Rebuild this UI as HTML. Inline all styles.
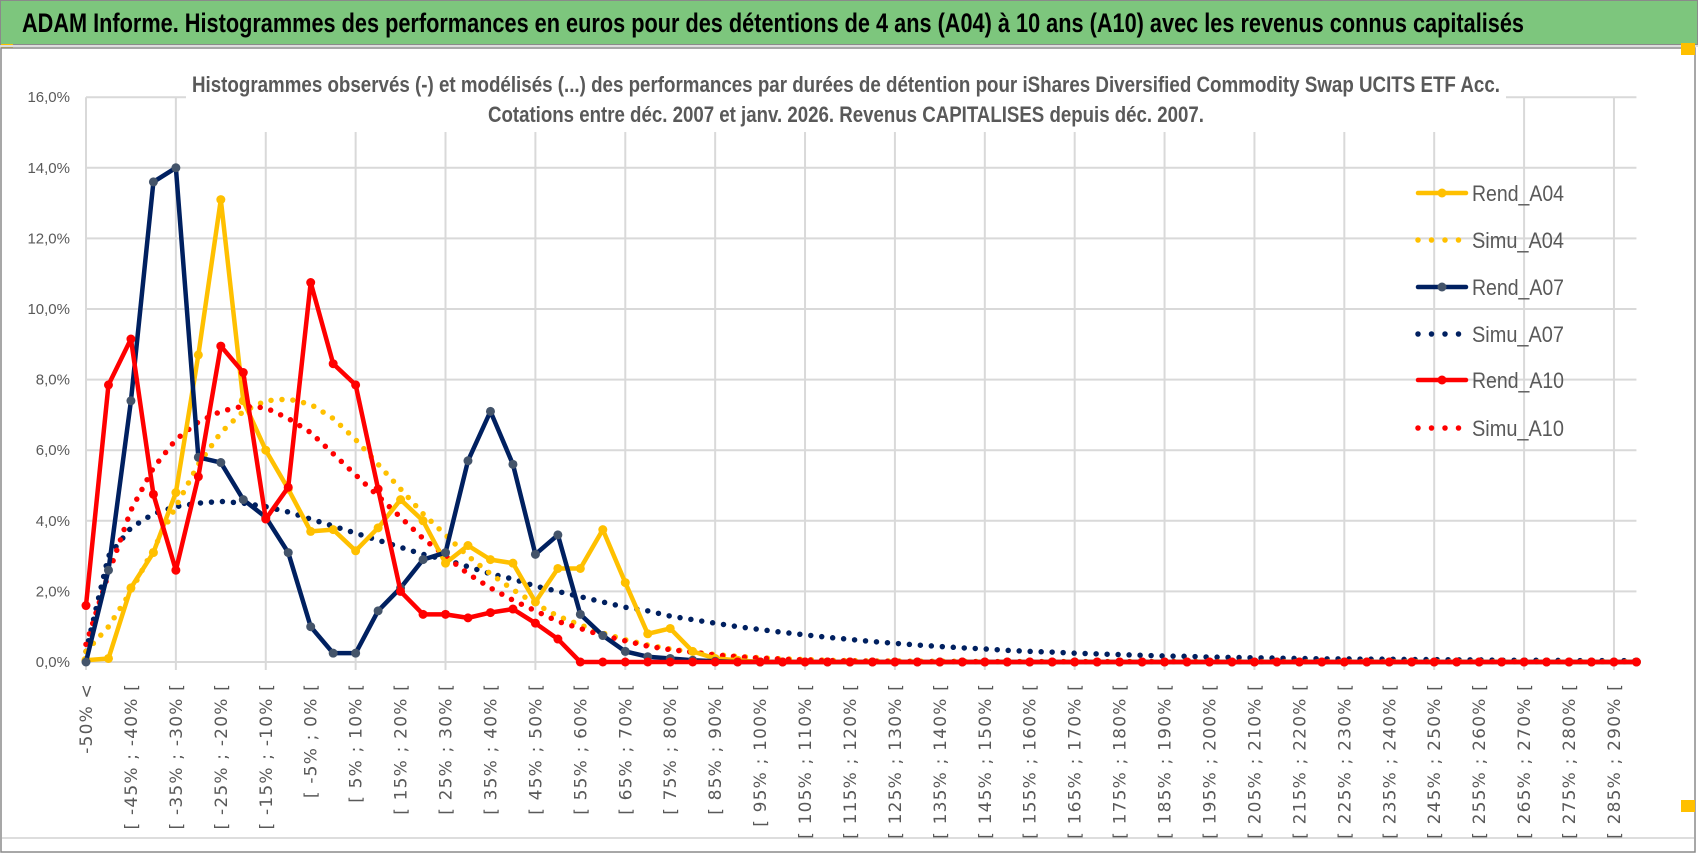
<!DOCTYPE html>
<html><head><meta charset="utf-8"><style>
html,body{margin:0;padding:0;background:#fff;}
svg{display:block;}
</style></head><body>
<svg id="chart" width="1698" height="854" viewBox="0 0 1698 854" xmlns="http://www.w3.org/2000/svg">
<rect x="0" y="0" width="1698" height="854" fill="#fff"/>
<rect x="0.5" y="0.5" width="1697" height="44" fill="#7DC67D" stroke="#8a8a8a" stroke-width="1"/>
<text x="22" y="32" font-family="Liberation Sans Narrow, Liberation Sans, sans-serif" font-weight="bold" font-size="27" fill="#000" textLength="1502" lengthAdjust="spacingAndGlyphs">ADAM Informe. Histogrammes des performances en euros pour des détentions de 4 ans (A04) à 10 ans (A10) avec les revenus connus capitalisés</text>
<rect x="1" y="44" width="12" height="4" fill="#FFC000"/>
<line x1="0" y1="46" x2="1698" y2="46" stroke="#ddd" stroke-width="2"/>
<rect x="1" y="48" width="1694" height="804" fill="none" stroke="#8a8a8a" stroke-width="1.5"/>
<rect x="1681" y="43" width="14" height="12" fill="#FFC000"/>
<rect x="1681" y="800" width="14" height="12" fill="#FFC000"/>
<line x1="2" y1="838" x2="1694" y2="838" stroke="#ddd" stroke-width="2"/>
<g id="grid"></g>
<rect x="186" y="56" width="1320" height="76" fill="#fff"/>
<text x="192" y="92" font-family="Liberation Sans Narrow, Liberation Sans, sans-serif" font-weight="bold" font-size="22" fill="#595959" textLength="1308" lengthAdjust="spacingAndGlyphs">Histogrammes observés (-) et modélisés (...) des performances par durées de détention pour iShares Diversified Commodity Swap UCITS ETF Acc.</text>
<text x="488" y="122" font-family="Liberation Sans Narrow, Liberation Sans, sans-serif" font-weight="bold" font-size="22" fill="#595959" textLength="716" lengthAdjust="spacingAndGlyphs">Cotations entre déc. 2007 et janv. 2026. Revenus CAPITALISES depuis déc. 2007.</text>
<g id="yaxis"></g>
<g id="xaxis"></g>
<g id="series"></g>
<g id="legend"></g>
</svg>
<script>
const yTicks = [0,2,4,6,8,10,12,14,16];
const yTickLabels = ["0,0%","2,0%","4,0%","6,0%","8,0%","10,0%","12,0%","14,0%","16,0%"];
const categories = ["-50% <"];
for (let k = 1; k < 70; k++) { const lo = -50 + 5*(k-1); categories.push("[ " + lo + "% ; " + (lo+5) + "% ["); }
const rendA04 = [0.05,0.1,2.1,3.1,4.8,8.7,13.1,7.4,6.0,4.9,3.7,3.75,3.15,3.8,4.6,4.0,2.8,3.3,2.9,2.8,1.7,2.65,2.65,3.75,2.25,0.8,0.95,0.3,0.1,0.05,0,0,0,0,0,0,0,0,0,0,0,0,0,0,0,0,0,0,0,0,0,0,0,0,0,0,0,0,0,0,0,0,0,0,0,0,0,0,0,0];
const simuA04 = [0.3,1.0,2.0,3.2,4.4,5.6,6.5,7.1,7.4,7.45,7.3,6.9,6.3,5.6,4.9,4.2,3.6,3.0,2.5,2.05,1.65,1.3,1.05,0.82,0.63,0.48,0.37,0.28,0.21,0.16,0.12,0.09,0.07,0.05,0.04,0.03,0.03,0.02,0.02,0.02,0.01,0.01,0.01,0.01,0.01,0.01,0.01,0.01,0.01,0.01,0.01,0.01,0.01,0.01,0.01,0.01,0.01,0.01,0.01,0.01,0.01,0.01,0.01,0.01,0.01,0.01,0.01,0.01,0.01,0.01];
const rendA07 = [0,2.6,7.4,13.6,14.0,5.8,5.65,4.6,4.1,3.1,1.0,0.25,0.25,1.45,2.1,2.9,3.1,5.7,7.1,5.6,3.05,3.6,1.35,0.75,0.3,0.15,0.1,0.05,0.02,0,0,0,0,0,0,0,0,0,0,0,0,0,0,0,0,0,0,0,0,0,0,0,0,0,0,0,0,0,0,0,0,0,0,0,0,0,0,0,0,0];
const simuA07 = [0.3,3.0,3.8,4.2,4.4,4.5,4.55,4.5,4.4,4.25,4.05,3.85,3.65,3.45,3.25,3.05,2.9,2.7,2.5,2.35,2.15,2.0,1.85,1.7,1.55,1.45,1.3,1.2,1.1,1.0,0.92,0.84,0.77,0.7,0.64,0.58,0.53,0.48,0.44,0.4,0.37,0.33,0.3,0.28,0.25,0.23,0.21,0.19,0.17,0.16,0.14,0.13,0.12,0.11,0.1,0.09,0.09,0.08,0.08,0.07,0.07,0.06,0.06,0.05,0.05,0.05,0.04,0.04,0.04,0.04];
const rendA10 = [1.6,7.85,9.15,4.75,2.6,5.25,8.95,8.2,4.05,4.95,10.75,8.45,7.85,4.9,2.0,1.35,1.35,1.25,1.4,1.5,1.1,0.65,0,0,0,0,0,0,0,0,0,0,0,0,0,0,0,0,0,0,0,0,0,0,0,0,0,0,0,0,0,0,0,0,0,0,0,0,0,0,0,0,0,0,0,0,0,0,0,0];
const simuA10 = [0.5,2.5,4.3,5.5,6.3,6.8,7.1,7.25,7.2,6.9,6.5,5.9,5.3,4.7,4.1,3.5,3.0,2.5,2.1,1.75,1.45,1.15,0.95,0.75,0.6,0.45,0.35,0.28,0.2,0.15,0.11,0.08,0.06,0.04,0.03,0.02,0.02,0.01,0.01,0.01,0.01,0.01,0.01,0.01,0.01,0.01,0.01,0.01,0.01,0.01,0.01,0.01,0.01,0.01,0.01,0.01,0.01,0.01,0.01,0.01,0.01,0.01,0.01,0.01,0.01,0.01,0.01,0.01,0.01,0.01];
const seriesNames = ["Rend_A04","Simu_A04","Rend_A07","Simu_A07","Rend_A10","Simu_A10"];

const NS = "http://www.w3.org/2000/svg";
const X0 = 86, DX = 22.47, Y0 = 662, PX = 35.3;
const xs = i => X0 + i*DX;
const ys = v => Y0 - v*PX;
function mk(tag, attrs, parent){ const e = document.createElementNS(NS, tag); for (const k in attrs) e.setAttribute(k, attrs[k]); parent.appendChild(e); return e; }
const grid = document.getElementById('grid'), yaxis = document.getElementById('yaxis'), xaxis = document.getElementById('xaxis');
const xEnd = xs(categories.length-1);
yTicks.forEach((t,i) => {
  const l = mk('line', {x1:X0, x2:xEnd, y1:ys(t), y2:ys(t), stroke:'#d9d9d9', 'stroke-width':2}, grid);
  
  
  const tx = mk('text', {x:70, y:ys(t)+5, 'text-anchor':'end', 'font-family':'Liberation Sans Narrow, Liberation Sans, sans-serif', 'font-size':15, fill:'#595959'}, yaxis);
  tx.textContent = yTickLabels[i];
  
  
});
for (let i = 0; i < categories.length; i += 4) {
  const l = mk('line', {x1:xs(i), x2:xs(i), y1:ys(16), y2:Y0+8, stroke:'#d9d9d9', 'stroke-width':2}, grid);
  
  
}
for (let i = 0; i < categories.length; i += 2) {
  const x = xs(i) + 6;
  const tx = mk('text', {x:0, y:0, transform:'translate(' + x + ',683) rotate(-90)', 'text-anchor':'end', 'font-family':'DejaVu Sans, sans-serif', 'font-size':17, 'letter-spacing':1.2, fill:'#595959'}, xaxis);
  tx.textContent = categories[i];
  
  
}
const series = document.getElementById('series');
function drawSolid(data, color, mcolor, name){
  const g = mk('g', {}, series);
  
  
  const p = mk('polyline', {points:data.map((v,i)=>xs(i)+','+ys(v)).join(' '), fill:'none', stroke:color, 'stroke-width':4.5, 'stroke-linejoin':'round'}, g);
  
  
  data.forEach((v,i) => {
    const c = mk('circle', {cx:xs(i), cy:ys(v), r:4.5, fill:mcolor}, g);
    
    
  });
}
function drawDotted(data, color, name){
  const p = mk('polyline', {points:data.map((v,i)=>xs(i)+','+ys(v)).join(' '), fill:'none', stroke:color, 'stroke-width':5.5, 'stroke-linecap':'round', 'stroke-dasharray':'0 11'}, series);
  
  
}
drawDotted(simuA07, '#002060', 'simu-a07-line');
drawDotted(simuA04, '#FFC000', 'simu-a04-line');
drawDotted(simuA10, '#FF0000', 'simu-a10-line');
drawSolid(rendA04, '#FFC000', '#FFC000', 'rend-a04');
drawSolid(rendA07, '#002060', '#44546A', 'rend-a07');
drawSolid(rendA10, '#FF0000', '#FF0000', 'rend-a10');

const legend = document.getElementById('legend');
const legY = [193,240,287,334,380,428];
const legColors = ['#FFC000','#FFC000','#002060','#002060','#FF0000','#FF0000'];
const legMark = ['#FFC000',null,'#44546A',null,'#FF0000',null];
seriesNames.forEach((n,i) => {
  const g = mk('g', {}, legend);
  
  
  const y = legY[i];
  if (legMark[i]) {
    mk('line', {x1:1418, x2:1466, y1:y, y2:y, stroke:legColors[i], 'stroke-width':4.5, 'stroke-linecap':'round'}, g);
    mk('circle', {cx:1442, cy:y, r:4.5, fill:legMark[i]}, g);
  } else {
    mk('line', {x1:1418, x2:1466, y1:y, y2:y, stroke:legColors[i], 'stroke-width':5.5, 'stroke-linecap':'round', 'stroke-dasharray':'0 13.5'}, g);
  }
  const t = mk('text', {x:1472, y:y+8, 'font-family':'Liberation Sans Narrow, Liberation Sans, sans-serif', 'font-size':22, fill:'#595959', textLength:92, lengthAdjust:'spacingAndGlyphs'}, g);
  t.textContent = n;
  
  
});
</script>
</body></html>
